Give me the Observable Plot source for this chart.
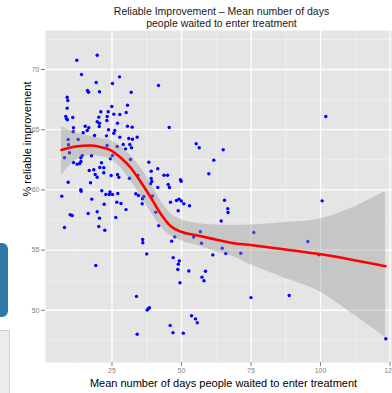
<!DOCTYPE html>
<html>
<head>
<meta charset="utf-8">
<script src="https://cdn.jsdelivr.net/npm/d3@7"></script>
<script src="https://cdn.jsdelivr.net/npm/@observablehq/plot@0.6"></script>
<style>
  html, body { margin: 0; padding: 0; background: #ffffff; }
  #wrap { position: relative; width: 392px; height: 393px; overflow: hidden; font-family: "Liberation Sans", Arial, Helvetica, sans-serif; }
  #title { position: absolute; left: 51px; top: 5px; width: 341px; text-align: center; font-size: 10.5px; line-height: 12px; color: #1a1a1a; }
  #chart { position: absolute; left: 0; top: 30px; }
  .side1 { position: absolute; left: 0; top: 243px; width: 8px; height: 74px; background: #2f78a8; border-radius: 0 6px 6px 0; }
  .side2 { position: absolute; left: -1px; top: 330px; width: 9px; height: 70px; background: #ececec; border: 1px solid #d0d0d0; }
</style>
</head>
<body>
<div id="wrap">
  <div class="side1"></div>
  <div class="side2"></div>
  <div id="title">Reliable Improvement – Mean number of days<br>people waited to enter treatment</div>
  <div id="chart"></div>
</div>
<script>
// Scatter data: mean days waited (x) vs % reliable improvement (y)
const daysWaited = [
  19.68, 12.34, 14.03, 27.70, 19.32, 25.18, 41.73, 16.19, 16.55, 20.50,
  31.91, 8.88, 9.10, 30.58, 24.93, 8.88, 20.97, 23.63, 25.65, 30.11,
  8.38, 8.63, 8.99, 10.90, 20.25, 23.27, 27.81, 19.68, 20.50, 23.13,
  26.98, 32.27, 45.58, 11.15, 15.36, 16.65, 16.08, 20.40, 30.58, 11.04,
  14.64, 23.74, 26.01, 25.65, 27.81, 18.71, 23.02, 31.04, 32.37, 34.06,
  12.84, 9.24, 55.29, 56.37, 31.40, 32.01, 9.35, 26.87, 29.03, 29.86,
  23.27, 14.28, 13.78, 17.63, 9.71, 7.91, 25.18, 24.46, 31.65, 61.62,
  38.24, 11.15, 12.48, 13.42, 13.85, 41.47, 16.80, 18.45, 20.61, 22.05,
  39.10, 59.82, 18.96, 19.68, 22.05, 24.71, 26.98, 27.45, 31.29, 45.00,
  43.70, 39.10, 39.32, 49.64, 49.89, 34.28, 9.24, 17.27, 41.47, 45.22,
  45.68, 13.78, 13.92, 21.33, 22.77, 23.99, 25.18, 27.09, 6.94, 17.73,
  33.56, 34.53, 65.00, 38.85, 39.57, 36.44, 35.97, 35.86, 28.24, 30.04,
  46.04, 48.20, 49.10, 49.93, 50.83, 52.88, 48.81, 65.47, 66.65, 66.73,
  64.28, 40.72, 41.80, 56.76, 54.39, 46.47, 47.59, 36.04, 36.08, 57.19,
  76.01, 64.64, 65.94, 61.26, 71.33, 37.48, 47.01, 49.21, 48.85, 48.67,
  52.63, 58.63, 57.37, 58.09, 49.46, 33.81, 75.00, 88.74, 37.66, 38.13,
  38.49, 53.60, 55.04, 55.68, 45.94, 46.94, 50.65, 34.06, 19.17, 101.9,
  100.6, 95.43, 99.39, 123.49, 21.22, 24.28, 22.19, 26.73, 9.96, 10.68,
  16.44, 19.68, 20.50, 26.37, 7.91, 20.25, 22.41
];
const reliableImprovement = [
  71.19, 70.77, 69.58, 69.39, 68.92, 68.84, 68.67, 68.26, 68.11, 68.15,
  68.11, 67.70, 67.43, 67.03, 66.93, 66.79, 66.49, 66.49, 66.29, 66.43,
  66.10, 65.91, 65.82, 66.01, 66.04, 66.10, 66.26, 65.66, 65.54, 65.76,
  65.54, 65.21, 65.18, 65.16, 65.29, 65.16, 64.93, 65.27, 65.29, 64.83,
  64.74, 64.99, 64.93, 64.71, 64.38, 64.52, 64.49, 64.27, 64.21, 64.38,
  64.19, 64.19, 63.83, 63.50, 63.77, 63.50, 63.75, 63.60, 63.77, 63.41,
  63.69, 62.86, 62.67, 62.83, 63.08, 62.67, 62.86, 62.58, 62.52, 62.47,
  62.30, 62.28, 62.13, 62.19, 62.36, 61.75, 61.61, 61.67, 61.86, 61.84,
  61.55, 61.34, 61.28, 61.05, 61.42, 61.20, 61.28, 61.05, 60.97, 61.22,
  61.22, 60.95, 60.70, 60.84, 60.72, 61.20, 60.64, 60.59, 60.20, 60.45,
  60.20, 60.01, 59.89, 59.93, 59.62, 59.62, 59.62, 59.70, 59.48, 59.23,
  59.68, 59.53, 63.33, 60.51, 59.49, 59.45, 59.26, 58.85, 58.87, 58.36,
  58.98, 59.12, 59.23, 59.08, 58.85, 58.68, 58.27, 59.14, 58.44, 58.12,
  57.42, 58.15, 57.03, 56.53, 56.09, 55.74, 56.10, 55.88, 55.61, 55.57,
  56.46, 55.15, 54.72, 54.60, 54.74, 54.68, 54.37, 54.09, 53.83, 53.39,
  53.26, 53.24, 52.75, 52.45, 52.28, 51.15, 51.05, 51.23, 50.02, 50.15,
  50.21, 49.54, 49.28, 48.96, 48.74, 48.14, 48.10, 48.01, 53.72, 66.10,
  59.09, 55.71, 54.61, 47.63, 62.25, 59.83, 58.81, 58.98, 57.93, 57.87,
  58.04, 58.18, 57.65, 57.71, 56.88, 56.96, 56.65
];

// Loess smooth: x, fitted value, lower and upper 95% band
const smoothX     = [6.83, 11.87, 17.27, 20.86, 24.46, 28.06, 31.65, 35.25, 38.85, 42.45, 46.04, 49.64, 55.76, 62.23, 67.63, 74.82, 87.41, 98.92, 110.79, 123.38];
const smoothFit   = [63.31, 63.60, 63.69, 63.56, 63.31, 62.69, 61.86, 60.70, 59.41, 58.04, 57.00, 56.54, 56.21, 55.88, 55.61, 55.42, 55.05, 54.69, 54.22, 53.66];
const smoothLower = [61.20, 62.44, 62.86, 62.77, 62.52, 61.86, 60.78, 59.53, 58.21, 56.96, 56.21, 55.80, 55.38, 54.88, 54.55, 53.80, 52.64, 51.64, 49.82, 47.74];
const smoothUpper = [65.27, 64.77, 64.44, 64.27, 64.10, 63.60, 62.86, 61.86, 60.61, 59.12, 58.04, 57.54, 57.21, 57.08, 57.04, 57.08, 57.29, 57.54, 58.46, 59.87];

// Axis ticks and labels
const xTicks = [25, 50, 75, 100, 125];
const yTicks = [50, 55, 60, 65, 70];
const xMinorTicks = [12.5, 37.5, 62.5, 87.5, 112.5];
const yMinorTicks = [47.5, 52.5, 57.5, 62.5, 67.5, 72.5];
const xTitle = "Mean number of days people waited to enter treatment";
const yTitle = "% reliable improvement";

const points = daysWaited.map((x, i) => ({x, y: reliableImprovement[i]}));
const smooth = smoothX.map((x, i) => ({x, fit: smoothFit[i], lo: smoothLower[i], hi: smoothUpper[i]}));

const chart = Plot.plot({
  width: 392,
  height: 363,
  marginLeft: 45,
  marginRight: 0,
  marginTop: 0,
  marginBottom: 31,
  style: {fontFamily: "'Liberation Sans', Arial, Helvetica, sans-serif", fontSize: "7px", color: "#7f7f7f", background: "transparent", overflow: "visible"},
  x: {domain: [1.08, 125.9], label: null},
  y: {domain: [45.66, 73.24], label: null},
  marks: [
    Plot.frame({fill: "#e5e5e5", stroke: null}),
    Plot.gridX(xMinorTicks, {stroke: "#f2f2f2", strokeOpacity: 1, strokeWidth: 0.7}),
    Plot.gridY(yMinorTicks, {stroke: "#f2f2f2", strokeOpacity: 1, strokeWidth: 0.7}),
    Plot.gridX(xTicks, {stroke: "#ffffff", strokeOpacity: 1, strokeWidth: 1.3}),
    Plot.gridY(yTicks, {stroke: "#ffffff", strokeOpacity: 1, strokeWidth: 1.3}),
    Plot.dot(points, {x: "x", y: "y", r: 1.7, fill: "#0000ff", stroke: null}),
    Plot.areaY(smooth, {x: "x", y1: "lo", y2: "hi", fill: "#999999", fillOpacity: 0.4, curve: "monotone-x"}),
    Plot.line(smooth, {x: "x", y: "fit", stroke: "#ff0000", strokeWidth: 2.6, curve: "monotone-x"}),
    Plot.axisX(xTicks, {tickSize: 4, tickPadding: 2, stroke: "#7f7f7f", fill: "#7f7f7f", label: null}),
    Plot.axisY(yTicks, {tickSize: 4, tickPadding: 2, stroke: "#7f7f7f", fill: "#7f7f7f", label: null}),
    Plot.text([xTitle], {text: d => d, frameAnchor: "bottom", dy: 21, dx: 4.5, lineAnchor: "middle", fontSize: 11, fill: "#000000"}),
    Plot.text([yTitle], {text: d => d, frameAnchor: "left", dx: -18, rotate: -90, fontSize: 11, fill: "#000000"})
  ]
});
document.getElementById("chart").appendChild(chart);
</script>
</body>
</html>
